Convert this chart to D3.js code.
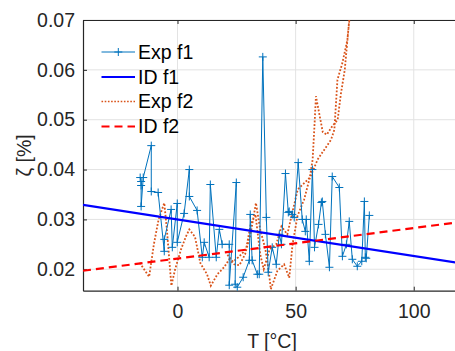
<!DOCTYPE html>
<html><head><meta charset="utf-8">
<script src="https://cdn.jsdelivr.net/npm/d3@7"></script>
<style>body{margin:0;background:#fff;} text{font-family:"Liberation Sans",Arial,sans-serif;}</style>
</head><body>
<svg id="c" width="455" height="351"></svg>
<script>
// Exp f1 data
const expF1T = [-15.8,-15.4,-15.4,-15.4,-14.5,-11.1,-11.1,-8.2,-5.6,-5.6,-2.7,-2.2,-0.1,-0.1,2.8,5.0,5.0,8.3,10.5,11.3,13.4,13.9,16.4,17.7,18.9,21.9,21.9,24.9,24.4,25.3,27.8,30.4,30.8,31.6,33.8,34.6,36.1,37.6,38.4,40.1,41.8,43.1,44.0,45.7,46.9,47.3,48.6,49.4,51.1,52.8,54.1,54.5,55.8,57.1,58.0,59.7,60.9,61.3,62.6,64.3,65.5,68.5,69.8,71.5,72.7,74.0,76.1,78.0,79.1,79.5,79.9,81.2];
const expF1Z = [0.0384,0.0376,0.0368,0.0326,0.0384,0.0448,0.0356,0.0354,0.0236,0.0260,0.0320,0.0244,0.0332,0.0254,0.0312,0.0400,0.0346,0.0318,0.0224,0.0254,0.0224,0.0370,0.0224,0.0280,0.0250,0.0250,0.0168,0.0374,0.0170,0.0164,0.0184,0.0218,0.0310,0.0218,0.0190,0.0190,0.0626,0.0304,0.0194,0.0244,0.0210,0.0270,0.0250,0.0392,0.0314,0.0316,0.0310,0.0304,0.0414,0.0300,0.0276,0.0300,0.0216,0.0400,0.0244,0.0290,0.0334,0.0336,0.0270,0.0204,0.0386,0.0364,0.0226,0.0250,0.0296,0.0220,0.0206,0.0216,0.0336,0.0224,0.0222,0.0308];
// Exp f2 data
const expF2T = [-16.0,-12.0,-10.0,-8.0,-5.6,-4.5,-2.6,-1.0,1.5,3.5,5.0,7.4,9.7,12.5,14.1,16.9,19.7,21.9,24.0,26.2,28.6,30.9,32.0,33.2,35.0,37.2,38.8,39.5,42.3,45.1,47.3,48.7,50.8,53.6,55.8,59.3,65.0,66.4,67.7,69.8,71.9,72.7,74.5,72.3,70.8,69.1,67.8,65.5,63.2,61.5,58.6,58.0,57.2,56.0,53.0,50.9,48.6,46.5,44.0,41.8,39.0,36.5,35.0,33.0,31.0,29.0,26.0,23.5,21.0];
const expF2Z = [0.0213,0.0185,0.0250,0.0300,0.0333,0.0280,0.0167,0.0200,0.0240,0.0265,0.0280,0.0265,0.0212,0.0190,0.0167,0.0190,0.0204,0.0220,0.0210,0.0208,0.0230,0.0270,0.0300,0.0333,0.0280,0.0240,0.0190,0.0160,0.0197,0.0210,0.0183,0.0250,0.0307,0.0340,0.0380,0.0420,0.0460,0.0480,0.0580,0.0614,0.0660,0.0700,0.0780,0.0680,0.0600,0.0550,0.0500,0.0487,0.0470,0.0475,0.0547,0.0490,0.0420,0.0384,0.0370,0.0360,0.0314,0.0270,0.0286,0.0250,0.0240,0.0200,0.0230,0.0310,0.0290,0.0240,0.0225,0.0215,0.0230];
// Identified fits (linear)
const idF1T = [-40, 120];
const idF1Z = [0.0329, 0.0212];
const idF2T = [-40, 120];
const idF2Z = [0.0197, 0.0295];
const xTicks = [0, 50, 100];
const yTicks = [0.02, 0.03, 0.04, 0.05, 0.06, 0.07];
const legendLabels = ["Exp f1", "ID f1", "Exp f2", "ID f2"];

const svg = d3.select("#c");
const L = 83, R = 461, T = 20, B = 290.7;
const x = d3.scaleLinear().domain([-40, 120]).range([L, R]);
const y = d3.scaleLinear().domain([0.0157, 0.07]).range([B, T]);
const axCol = "#262626", fs = 19.5;

svg.append("defs").append("clipPath").attr("id","clip")
  .append("rect").attr("x", L).attr("y", T).attr("width", R-L).attr("height", B-T);

// grid
const g = svg.append("g");
g.selectAll(".gx").data(xTicks).join("line")
  .attr("x1", d=>x(d)).attr("x2", d=>x(d)).attr("y1", T).attr("y2", B)
  .attr("stroke", "#e3e3e3").attr("stroke-width", 1);
g.selectAll(".gy").data(yTicks).join("line")
  .attr("x1", L).attr("x2", R).attr("y1", d=>y(d)).attr("y2", d=>y(d))
  .attr("stroke", "#e3e3e3").attr("stroke-width", 1);

// axes
const xAx = d3.axisBottom(x).tickValues(xTicks).tickSizeInner(-4).tickSizeOuter(0).tickPadding(13).tickFormat(d3.format("d"));
const yAx = d3.axisLeft(y).tickValues(yTicks).tickSizeInner(-4).tickSizeOuter(0).tickPadding(8).tickFormat(d3.format(".2f"));
const gx = svg.append("g").attr("transform", `translate(0,${B})`).call(xAx);
const gy = svg.append("g").attr("transform", `translate(${L},0)`).call(yAx);
const gxt = svg.append("g").attr("transform", `translate(0,${T})`).call(d3.axisTop(x).tickValues(xTicks).tickSizeInner(-4).tickSizeOuter(0).tickFormat(""));
[gx, gy, gxt].forEach(a => {
  a.select(".domain").attr("stroke", axCol).attr("stroke-width", 1.2);
  a.selectAll(".tick line").attr("stroke", axCol);
  a.selectAll(".tick text").attr("fill", axCol).attr("font-size", fs).attr("font-family", "Liberation Sans, Arial, sans-serif");
});

// data
const plot = svg.append("g").attr("clip-path", "url(#clip)");
const line = d3.line().x(d=>x(d[0])).y(d=>y(d[1]));
const f2 = expF2T.map((t,i)=>[t, expF2Z[i]]);
const f1 = expF1T.map((t,i)=>[t, expF1Z[i]]);
plot.append("path").datum(f2).attr("d", line).attr("fill","none")
  .attr("stroke", "#D95319").attr("stroke-width", 1.8).attr("stroke-dasharray", "1.8,1.8");
plot.append("path").datum(f1).attr("d", line).attr("fill","none")
  .attr("stroke", "#0072BD").attr("stroke-width", 1);
const ms = 4;
plot.selectAll(".m").data(f1).join("path")
  .attr("d", d => `M${x(d[0])-ms},${y(d[1])}H${x(d[0])+ms}M${x(d[0])},${y(d[1])-ms}V${y(d[1])+ms}`)
  .attr("stroke", "#0072BD").attr("stroke-width", 1);
plot.append("path").datum(idF1T.map((t,i)=>[t, idF1Z[i]])).attr("d", line).attr("fill","none")
  .attr("stroke", "#0000FF").attr("stroke-width", 2.2);
plot.append("path").datum(idF2T.map((t,i)=>[t, idF2Z[i]])).attr("d", line).attr("fill","none")
  .attr("stroke", "#FF0000").attr("stroke-width", 2.2).attr("stroke-dasharray", "8,5");

// legend
const lg = svg.append("g");
const rowsY = [52, 77, 101.5, 126.5];
const styles = [
  {c:"#0072BD", w:1, da:null, m:true},
  {c:"#0000FF", w:2.2, da:null},
  {c:"#D95319", w:1.6, da:"1.6,1.6"},
  {c:"#FF0000", w:2.2, da:"8,5"}
];
legendLabels.forEach((lab, i) => {
  const s = styles[i], yy = rowsY[i];
  const ln = lg.append("line").attr("x1", 101.5).attr("x2", 135).attr("y1", yy).attr("y2", yy)
    .attr("stroke", s.c).attr("stroke-width", s.w);
  if (s.da) ln.attr("stroke-dasharray", s.da);
  if (s.m) lg.append("path").attr("d", `M${118.3-ms},${yy}H${118.3+ms}M118.3,${yy-ms}V${yy+ms}`).attr("stroke", s.c);
  lg.append("text").attr("x", 138).attr("y", yy).attr("dy", "0.35em")
    .attr("font-size", fs).attr("fill", "#000").text(lab);
});

// axis labels
svg.append("text").attr("x", (L+R)/2).attr("y", 348).attr("text-anchor","middle")
  .attr("font-size", fs).attr("fill", axCol).text("T [°C]");
svg.append("text").attr("transform", `translate(31,${(T+B)/2}) rotate(-90)`).attr("text-anchor","middle")
  .attr("font-size", fs).attr("fill", axCol).text("ζ [%]");
</script>
</body></html>
